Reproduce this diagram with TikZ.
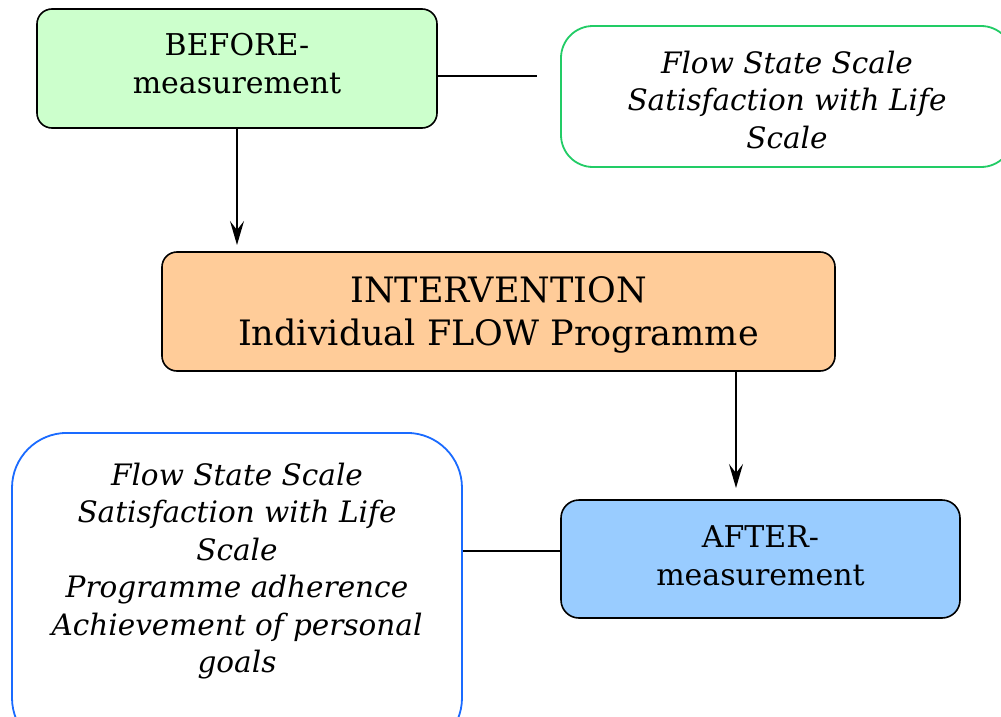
\documentclass[tikz,border=0pt]{standalone}
\usepackage{fontspec}
\setmainfont{DejaVu Serif}
\usetikzlibrary{arrows.meta}
\definecolor{greenfill}{HTML}{CCFFCC}
\definecolor{orangefill}{HTML}{FFCC99}
\definecolor{bluefill}{HTML}{99CCFF}
\definecolor{greenline}{HTML}{22CC66}
\definecolor{blueline}{HTML}{1A6BFF}
\tikzset{
  stagebox/.style={draw=black, line width=1.6pt, rounded corners=15pt, align=center, inner sep=0pt},
  measbox/.style={line width=1.8pt, rounded corners=#1, fill=white, align=center, inner sep=0pt},
  conn/.style={line width=1.6pt},
  arr/.style={conn, -{Stealth[length=24pt, width=14pt, inset=9pt]}},
  stagefont/.style={font=\fontsize{30}{38}\selectfont, align=center},
  bigfont/.style={font=\fontsize{35}{43}\selectfont, align=center},
  itfont/.style={font=\fontsize{29.5}{37.5}\selectfont\itshape, align=center}
}
\begin{document}
\begin{tikzpicture}[x=1pt, y=-1pt]
\clip (0,0) rectangle (1001,717);
\useasboundingbox (0,0) rectangle (1001,717);
\fill[white] (0,0) rectangle (1001,717);

\node[stagebox, fill=greenfill, minimum width=400pt, minimum height=119pt] (before) at (237,68.5) {};
\node[stagefont] (beforetext) at (237,64) {BEFORE-\\measurement};
\node[measbox=32pt, draw=greenline, minimum width=452pt, minimum height=141pt] (scalesA) at (787,96.5) {};
\node[itfont] (scalesAtext) at (787,100) {Flow State Scale\\Satisfaction with Life\\Scale};

\node[stagebox, fill=orangefill, minimum width=673pt, minimum height=119pt] (interv) at (498.5,311.5) {};
\node[bigfont] (intervtext) at (498.5,314.5) {INTERVENTION\\Individual FLOW Programme};

\node[stagebox, rounded corners=18pt, fill=bluefill, minimum width=399pt, minimum height=118pt] (after) at (760.5,559) {};
\node[stagefont] (aftertext) at (760.5,556) {AFTER-\\measurement};
\node[measbox=55pt, draw=blueline, minimum width=450pt, minimum height=320pt, anchor=north] (scalesB) at (237,432) {};
\node[itfont] (scalesBtext) at (237,571) {Flow State Scale\\Satisfaction with Life\\Scale\\Programme adherence\\Achievement of personal\\goals};

\coordinate (beforeEnd) at (537,76);
\draw[conn] (before.east |- beforeEnd) -- (beforeEnd);
\coordinate (arrA) at (237,245);
\draw[arr] (before.south) -- (arrA);
\coordinate (arrB) at (736,488);
\draw[arr] (interv.south -| arrB) -- (arrB);
\coordinate (linkB) at (0,551);
\draw[conn] (scalesB.east |- linkB) -- (after.west |- linkB);
\end{tikzpicture}
\end{document}
